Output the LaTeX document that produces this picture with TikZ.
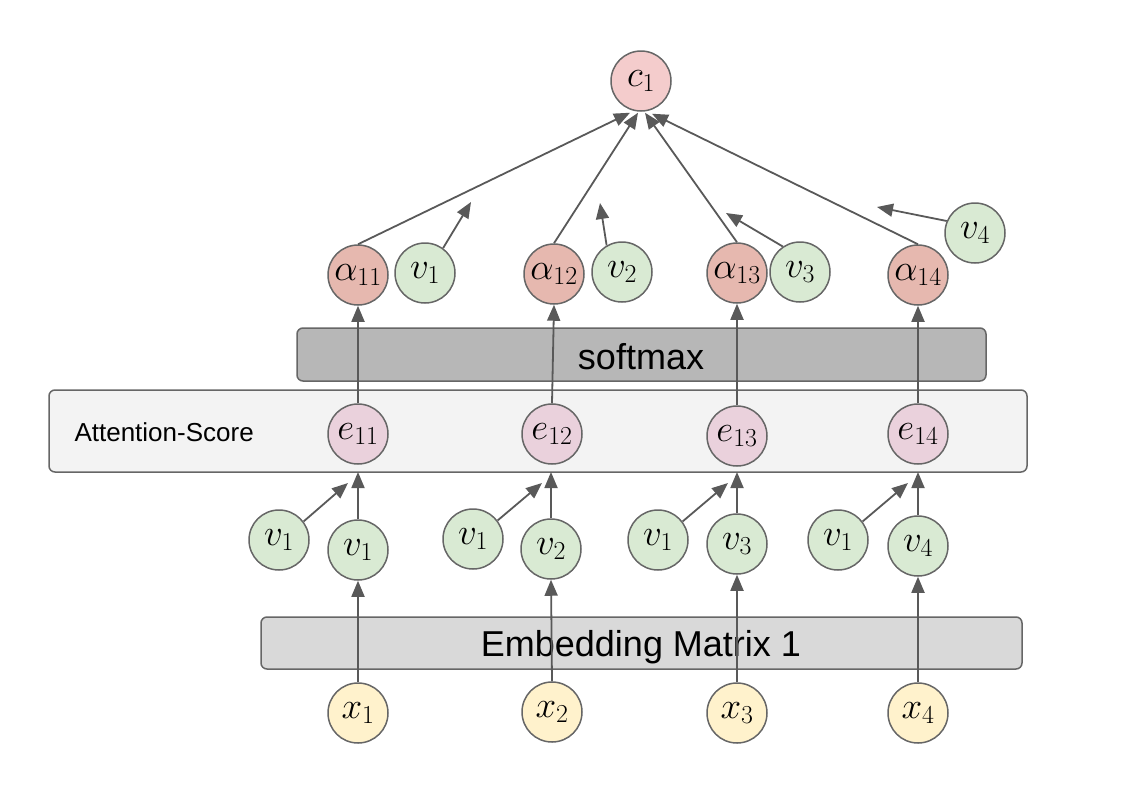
\RequirePackage{fix-cm}
\documentclass[tikz,border=0pt]{standalone}
\usepackage{fontspec}
\setsansfont{Liberation Sans}
\usetikzlibrary{arrows.meta}
\definecolor{ln}{HTML}{595959}
\definecolor{bd}{HTML}{666666}
\definecolor{cfill}{HTML}{F4CCCC}
\definecolor{afill}{HTML}{E6B8AF}
\definecolor{vfill}{HTML}{D9EAD3}
\definecolor{efill}{HTML}{EAD1DC}
\definecolor{xfill}{HTML}{FFF2CC}
\definecolor{smfill}{HTML}{B7B7B7}
\definecolor{atfill}{HTML}{F3F3F3}
\definecolor{emfill}{HTML}{D9D9D9}
\tikzset{
  circ/.style={circle, draw=bd, line width=1.5pt, minimum size=60pt, inner sep=0pt, font=\fontsize{37}{42}\selectfont},
  cnode/.style={circ, fill=cfill},
  anode/.style={circ, fill=afill},
  vnode/.style={circ, fill=vfill},
  enode/.style={circ, fill=efill},
  xnode/.style={circ, fill=xfill},
  arr/.style={draw=ln, line width=1.8pt, -{Triangle[length=16pt,width=13pt]}},
  boxframe/.style={draw=bd, line width=1.5pt, rounded corners=6pt},
  boxtext/.style={font=\sffamily\fontsize{36}{40}\selectfont, text=black}
}
\begin{document}
\begin{tikzpicture}[x=1pt,y=-1pt]
\useasboundingbox (0,0) rectangle (1128,807);
% boxes
\draw[boxframe, fill=smfill] (297,328) rectangle (986,381);
\node[boxtext] (sm) at (641,357) {softmax};
\draw[boxframe, fill=atfill] (49,390) rectangle (1027,472);
\coordinate (attb1) at (358,472);
\coordinate (attb2) at (551,472);
\coordinate (attb3) at (737,472);
\coordinate (attb4) at (918,472);
\node[font=\sffamily\fontsize{26}{30}\selectfont, anchor=west] (attlbl) at (71,432) {Attention-Score};
\draw[boxframe, fill=emfill] (261,617) rectangle (1022,669);
\node[boxtext] (emb) at (641,647) {Embedding Matrix 1};
% nodes
\node[cnode] (c1) at (641,81) {$c_1$};
\node[anode] (a11) at (358,275) {$\alpha_{11}$};
\node[anode] (a12) at (554,274) {$\alpha_{12}$};
\node[anode] (a13) at (737,273) {$\alpha_{13}$};
\node[anode] (a14) at (918,275) {$\alpha_{14}$};
\node[vnode] (u1) at (425,273) {$v_1$};
\node[vnode] (u2) at (622,272) {$v_2$};
\node[vnode] (u3) at (800,272) {$v_3$};
\node[vnode] (u4) at (975,233) {$v_4$};
\node[enode] (e11) at (358,434) {$e_{11}$};
\node[enode] (e12) at (552,434) {$e_{12}$};
\node[enode] (e13) at (737,436) {$e_{13}$};
\node[enode] (e14) at (918,434) {$e_{14}$};
\node[vnode] (l1) at (279,540) {$v_1$};
\node[vnode] (l2) at (473,539) {$v_1$};
\node[vnode] (l3) at (658,540) {$v_1$};
\node[vnode] (l4) at (838,540) {$v_1$};
\node[vnode] (r1) at (358,550) {$v_1$};
\node[vnode] (r2) at (551,549) {$v_2$};
\node[vnode] (r3) at (737,544) {$v_3$};
\node[vnode] (r4) at (918,546) {$v_4$};
\node[xnode] (x1) at (358,713) {$x_1$};
\node[xnode] (x2) at (552,712) {$x_2$};
\node[xnode] (x3) at (737,713) {$x_3$};
\node[xnode] (x4) at (918,713) {$x_4$};
% free ends
\coordinate (t1) at (471,202);
\coordinate (t2) at (600,203);
\coordinate (t3) at (726,213);
\coordinate (t4) at (877,207);
\coordinate (s1) at (348,483);
\coordinate (s2) at (542,483);
\coordinate (s3) at (728,483);
\coordinate (s4) at (908,483);
% x -> v
\draw[arr] (x1.north) -- (r1.south);
\draw[arr] (x2.north) -- (r2.south);
\draw[arr] (x3.north) -- (r3.south);
\draw[arr] (x4.north) -- (r4.south);
% v -> attention
\draw[arr] (r1.north) -- (attb1);
\draw[arr] (r2.north) -- (attb2);
\draw[arr] (r3.north) -- (attb3);
\draw[arr] (r4.north) -- (attb4);
\draw[arr] (l1.37) -- (s1);
\draw[arr] (l2.37) -- (s2);
\draw[arr] (l3.37) -- (s3);
\draw[arr] (l4.37) -- (s4);
% e -> alpha
\draw[arr] (e11.north) -- (a11.south);
\draw[arr] (e12.north) -- (a12.south);
\draw[arr] (e13.north) -- (a13.south);
\draw[arr] (e14.north) -- (a14.south);
% alpha -> c1
\draw[arr] (a11.north) -- ([xshift=-11pt,yshift=-1pt]c1.south);
\draw[arr] (a12.north) -- ([xshift=-3pt,yshift=-1pt]c1.south);
\draw[arr] (a13.north) -- ([xshift=4pt,yshift=-1pt]c1.south);
\draw[arr] (a14.north) -- ([xshift=11pt,yshift=-2pt]c1.south);
% upper v arrows
\draw[arr] (u1.54) -- (t1);
\draw[arr] (u2.120) -- (t2);
\draw[arr] (u3.124) -- (t3);
\draw[arr] (u4.157) -- (t4);
\end{tikzpicture}
\end{document}
